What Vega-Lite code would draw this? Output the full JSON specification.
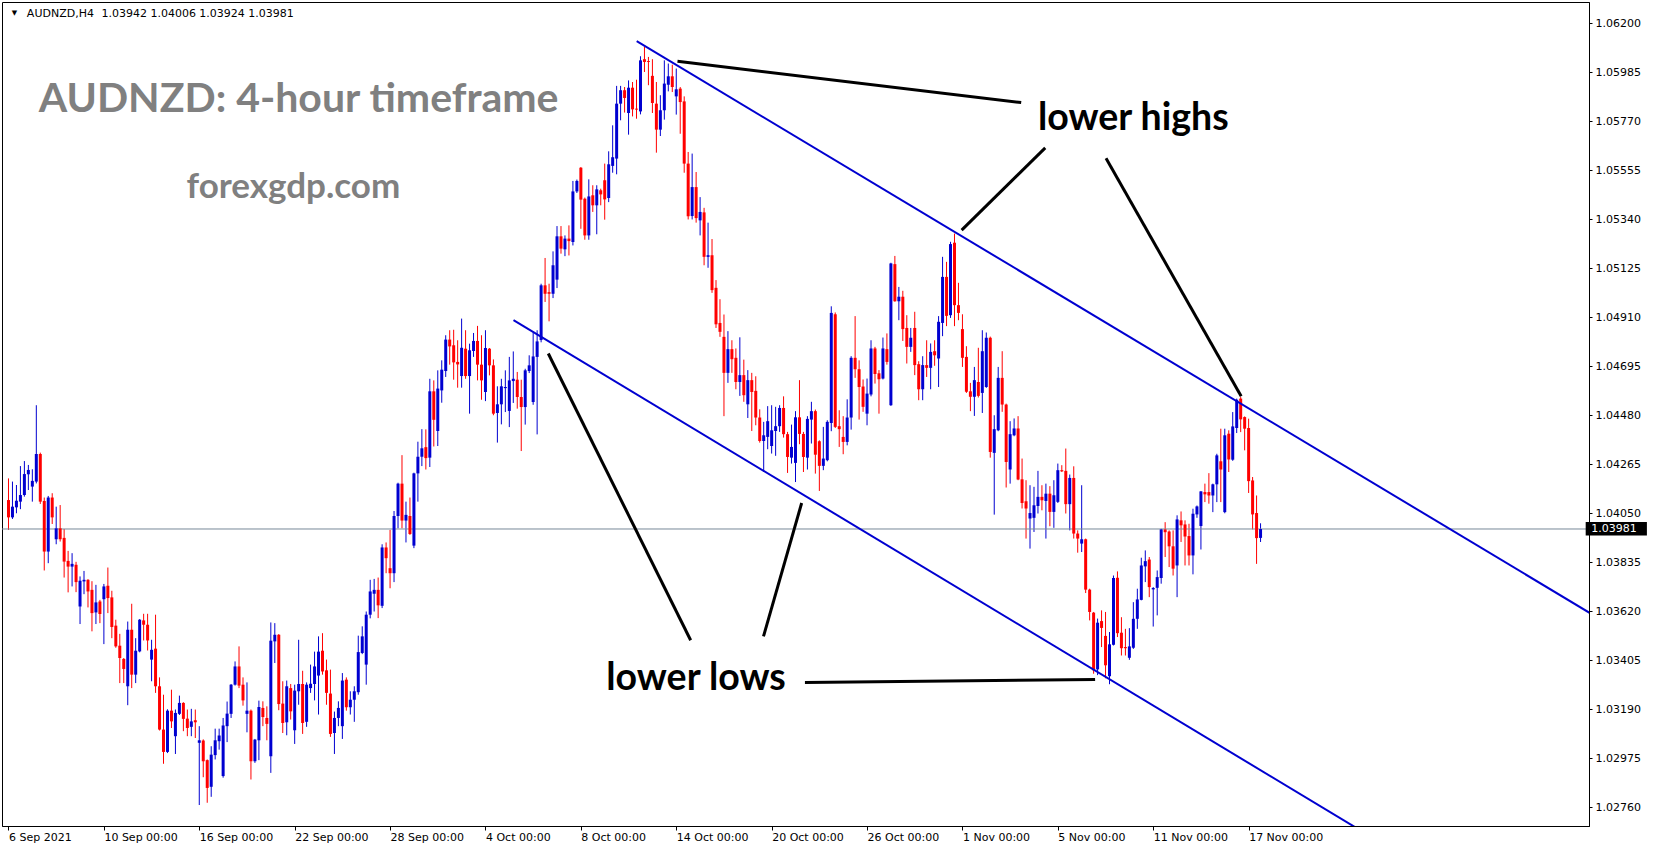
{
"$schema": "https://vega.github.io/schema/vega-lite/v6.json",
"width": 1587,
"height": 824,
"autosize": {"type": "none"},
"padding": {"left": 2, "top": 2, "right": 64, "bottom": 24},
"background": "white",
"config": {"view": {"stroke": "#000000", "strokeWidth": 1},
"axis": {"grid": false, "tickColor": "#000000", "domainColor": "#000000", "labelColor": "#000000", "labelFont": "DejaVu Sans", "labelFontSize": 11}},
"resolve": {"axis": {"x": "independent", "y": "independent"}},
"datasets": {
"candles": [
{"i":0,"o":1.04108,"h":1.04203,"l":1.03977,"c":1.04032},
{"i":1,"o":1.04032,"h":1.04189,"l":1.04025,"c":1.04079},
{"i":2,"o":1.04076,"h":1.04174,"l":1.04050,"c":1.04105},
{"i":3,"o":1.04101,"h":1.04257,"l":1.04068,"c":1.04130},
{"i":4,"o":1.04130,"h":1.04279,"l":1.04123,"c":1.04222},
{"i":5,"o":1.04221,"h":1.04262,"l":1.04152,"c":1.04240},
{"i":6,"o":1.04167,"h":1.04243,"l":1.04101,"c":1.04192},
{"i":7,"o":1.04189,"h":1.04524,"l":1.04181,"c":1.04310},
{"i":8,"o":1.04310,"h":1.04316,"l":1.04091,"c":1.04101},
{"i":9,"o":1.04104,"h":1.04119,"l":1.03799,"c":1.03882},
{"i":10,"o":1.03882,"h":1.04126,"l":1.03831,"c":1.04119},
{"i":11,"o":1.04119,"h":1.04138,"l":1.04003,"c":1.04032},
{"i":12,"o":1.03936,"h":1.04079,"l":1.03914,"c":1.03984},
{"i":13,"o":1.03984,"h":1.04086,"l":1.03926,"c":1.03936},
{"i":14,"o":1.03942,"h":1.03981,"l":1.03768,"c":1.03838},
{"i":15,"o":1.03841,"h":1.03885,"l":1.03703,"c":1.03816},
{"i":16,"o":1.03816,"h":1.03875,"l":1.03729,"c":1.03828},
{"i":17,"o":1.03824,"h":1.03837,"l":1.03704,"c":1.03748},
{"i":18,"o":1.03641,"h":1.03773,"l":1.03564,"c":1.03754},
{"i":19,"o":1.03751,"h":1.03797,"l":1.03695,"c":1.03758},
{"i":20,"o":1.03758,"h":1.03761,"l":1.03637,"c":1.03707},
{"i":21,"o":1.03714,"h":1.03752,"l":1.03532,"c":1.03612},
{"i":22,"o":1.03615,"h":1.03736,"l":1.03564,"c":1.03659},
{"i":23,"o":1.03663,"h":1.03670,"l":1.03568,"c":1.03608},
{"i":24,"o":1.03673,"h":1.03740,"l":1.03476,"c":1.03729},
{"i":25,"o":1.03732,"h":1.03812,"l":1.03612,"c":1.03678},
{"i":26,"o":1.03681,"h":1.03710,"l":1.03502,"c":1.03551},
{"i":27,"o":1.03557,"h":1.03583,"l":1.03460,"c":1.03466},
{"i":28,"o":1.03469,"h":1.03521,"l":1.03305,"c":1.03415},
{"i":29,"o":1.03411,"h":1.03415,"l":1.03305,"c":1.03367},
{"i":30,"o":1.03291,"h":1.03575,"l":1.03208,"c":1.03539},
{"i":31,"o":1.03539,"h":1.03653,"l":1.03283,"c":1.03342},
{"i":32,"o":1.03342,"h":1.03502,"l":1.03305,"c":1.03447},
{"i":33,"o":1.03444,"h":1.03586,"l":1.03440,"c":1.03583},
{"i":34,"o":1.03580,"h":1.03609,"l":1.03492,"c":1.03561},
{"i":35,"o":1.03561,"h":1.03609,"l":1.03448,"c":1.03492},
{"i":36,"o":1.03408,"h":1.03495,"l":1.03313,"c":1.03451},
{"i":37,"o":1.03456,"h":1.03605,"l":1.03262,"c":1.03291},
{"i":38,"o":1.03291,"h":1.03330,"l":1.03097,"c":1.03101},
{"i":39,"o":1.03101,"h":1.03254,"l":1.02951,"c":1.03003},
{"i":40,"o":1.03003,"h":1.03190,"l":1.02998,"c":1.03184},
{"i":41,"o":1.03184,"h":1.03276,"l":1.03108,"c":1.03137},
{"i":42,"o":1.03072,"h":1.03189,"l":1.02994,"c":1.03174},
{"i":43,"o":1.03170,"h":1.03250,"l":1.03165,"c":1.03218},
{"i":44,"o":1.03218,"h":1.03221,"l":1.03094,"c":1.03148},
{"i":45,"o":1.03149,"h":1.03189,"l":1.03072,"c":1.03108},
{"i":46,"o":1.03113,"h":1.03192,"l":1.03072,"c":1.03137},
{"i":47,"o":1.03142,"h":1.03189,"l":1.03064,"c":1.03133},
{"i":48,"o":1.03043,"h":1.03116,"l":1.02770,"c":1.03054},
{"i":49,"o":1.03053,"h":1.03058,"l":1.02892,"c":1.02962},
{"i":50,"o":1.02967,"h":1.02970,"l":1.02780,"c":1.02845},
{"i":51,"o":1.02850,"h":1.03028,"l":1.02806,"c":1.02991},
{"i":52,"o":1.02989,"h":1.03105,"l":1.02970,"c":1.03054},
{"i":53,"o":1.03050,"h":1.03105,"l":1.03013,"c":1.03075},
{"i":54,"o":1.02897,"h":1.03152,"l":1.02890,"c":1.03119},
{"i":55,"o":1.03116,"h":1.03224,"l":1.03046,"c":1.03171},
{"i":56,"o":1.03170,"h":1.03301,"l":1.03152,"c":1.03298},
{"i":57,"o":1.03298,"h":1.03400,"l":1.03294,"c":1.03378},
{"i":58,"o":1.03378,"h":1.03466,"l":1.03283,"c":1.03294},
{"i":59,"o":1.03298,"h":1.03330,"l":1.03206,"c":1.03229},
{"i":60,"o":1.03170,"h":1.03308,"l":1.03089,"c":1.03184},
{"i":61,"o":1.03184,"h":1.03189,"l":1.02882,"c":1.02962},
{"i":62,"o":1.02962,"h":1.03060,"l":1.02955,"c":1.03057},
{"i":63,"o":1.03054,"h":1.03228,"l":1.02967,"c":1.03200},
{"i":64,"o":1.03196,"h":1.03225,"l":1.03116,"c":1.03156},
{"i":65,"o":1.03152,"h":1.03203,"l":1.03054,"c":1.03126},
{"i":66,"o":1.02984,"h":1.03571,"l":1.02911,"c":1.03491},
{"i":67,"o":1.03488,"h":1.03568,"l":1.03393,"c":1.03517},
{"i":68,"o":1.03517,"h":1.03520,"l":1.03186,"c":1.03213},
{"i":69,"o":1.03215,"h":1.03313,"l":1.03086,"c":1.03130},
{"i":70,"o":1.03133,"h":1.03316,"l":1.03076,"c":1.03291},
{"i":71,"o":1.03283,"h":1.03301,"l":1.03145,"c":1.03181},
{"i":72,"o":1.03098,"h":1.03298,"l":1.03038,"c":1.03272},
{"i":73,"o":1.03269,"h":1.03495,"l":1.03210,"c":1.03301},
{"i":74,"o":1.03301,"h":1.03359,"l":1.03082,"c":1.03130},
{"i":75,"o":1.03135,"h":1.03308,"l":1.03113,"c":1.03298},
{"i":76,"o":1.03283,"h":1.03386,"l":1.03262,"c":1.03302},
{"i":77,"o":1.03301,"h":1.03443,"l":1.03229,"c":1.03378},
{"i":78,"o":1.03338,"h":1.03510,"l":1.03167,"c":1.03443},
{"i":79,"o":1.03447,"h":1.03524,"l":1.03342,"c":1.03356},
{"i":80,"o":1.03361,"h":1.03408,"l":1.03210,"c":1.03262},
{"i":81,"o":1.03259,"h":1.03364,"l":1.03069,"c":1.03082},
{"i":82,"o":1.03086,"h":1.03180,"l":1.02994,"c":1.03152},
{"i":83,"o":1.03152,"h":1.03225,"l":1.03116,"c":1.03196},
{"i":84,"o":1.03116,"h":1.03349,"l":1.03060,"c":1.03316},
{"i":85,"o":1.03320,"h":1.03330,"l":1.03184,"c":1.03199},
{"i":86,"o":1.03199,"h":1.03269,"l":1.03167,"c":1.03232},
{"i":87,"o":1.03232,"h":1.03291,"l":1.03135,"c":1.03269},
{"i":88,"o":1.03265,"h":1.03513,"l":1.03254,"c":1.03441},
{"i":89,"o":1.03437,"h":1.03554,"l":1.03432,"c":1.03510},
{"i":90,"o":1.03386,"h":1.03619,"l":1.03298,"c":1.03605},
{"i":91,"o":1.03605,"h":1.03758,"l":1.03589,"c":1.03707},
{"i":92,"o":1.03697,"h":1.03762,"l":1.03619,"c":1.03714},
{"i":93,"o":1.03714,"h":1.03768,"l":1.03590,"c":1.03646},
{"i":94,"o":1.03644,"h":1.03914,"l":1.03634,"c":1.03900},
{"i":95,"o":1.03900,"h":1.03922,"l":1.03787,"c":1.03853},
{"i":96,"o":1.03809,"h":1.03977,"l":1.03721,"c":1.03787},
{"i":97,"o":1.03787,"h":1.04060,"l":1.03748,"c":1.04038},
{"i":98,"o":1.04038,"h":1.04184,"l":1.03984,"c":1.04180},
{"i":99,"o":1.04180,"h":1.04305,"l":1.03984,"c":1.04018},
{"i":100,"o":1.04018,"h":1.04101,"l":1.03922,"c":1.04043},
{"i":101,"o":1.04038,"h":1.04119,"l":1.03955,"c":1.03959},
{"i":102,"o":1.03908,"h":1.04228,"l":1.03897,"c":1.04225},
{"i":103,"o":1.04225,"h":1.04364,"l":1.04101,"c":1.04298},
{"i":104,"o":1.04298,"h":1.04419,"l":1.04257,"c":1.04335},
{"i":105,"o":1.04340,"h":1.04418,"l":1.04242,"c":1.04292},
{"i":106,"o":1.04294,"h":1.04640,"l":1.04253,"c":1.04585},
{"i":107,"o":1.04585,"h":1.04633,"l":1.04343,"c":1.04460},
{"i":108,"o":1.04411,"h":1.04677,"l":1.04345,"c":1.04597},
{"i":109,"o":1.04589,"h":1.04721,"l":1.04535,"c":1.04680},
{"i":110,"o":1.04674,"h":1.04831,"l":1.04648,"c":1.04812},
{"i":111,"o":1.04812,"h":1.04853,"l":1.04702,"c":1.04782},
{"i":112,"o":1.04787,"h":1.04855,"l":1.04636,"c":1.04712},
{"i":113,"o":1.04714,"h":1.04809,"l":1.04601,"c":1.04703},
{"i":114,"o":1.04652,"h":1.04904,"l":1.04601,"c":1.04776},
{"i":115,"o":1.04772,"h":1.04853,"l":1.04640,"c":1.04652},
{"i":116,"o":1.04652,"h":1.04794,"l":1.04487,"c":1.04765},
{"i":117,"o":1.04762,"h":1.04841,"l":1.04736,"c":1.04806},
{"i":118,"o":1.04806,"h":1.04872,"l":1.04633,"c":1.04702},
{"i":119,"o":1.04702,"h":1.04831,"l":1.04548,"c":1.04633},
{"i":120,"o":1.04582,"h":1.04853,"l":1.04542,"c":1.04775},
{"i":121,"o":1.04772,"h":1.04775,"l":1.04655,"c":1.04699},
{"i":122,"o":1.04699,"h":1.04725,"l":1.04480,"c":1.04487},
{"i":123,"o":1.04490,"h":1.04607,"l":1.04360,"c":1.04528},
{"i":124,"o":1.04528,"h":1.04640,"l":1.04440,"c":1.04607},
{"i":125,"o":1.04599,"h":1.04677,"l":1.04494,"c":1.04604},
{"i":126,"o":1.04499,"h":1.04736,"l":1.04428,"c":1.04633},
{"i":127,"o":1.04630,"h":1.04760,"l":1.04534,"c":1.04640},
{"i":128,"o":1.04636,"h":1.04670,"l":1.04509,"c":1.04560},
{"i":129,"o":1.04560,"h":1.04636,"l":1.04323,"c":1.04516},
{"i":130,"o":1.04516,"h":1.04684,"l":1.04439,"c":1.04677},
{"i":131,"o":1.04674,"h":1.04743,"l":1.04665,"c":1.04699},
{"i":132,"o":1.04538,"h":1.04842,"l":1.04526,"c":1.04738},
{"i":133,"o":1.04736,"h":1.04853,"l":1.04396,"c":1.04804},
{"i":134,"o":1.04810,"h":1.05057,"l":1.04800,"c":1.05050},
{"i":135,"o":1.05050,"h":1.05170,"l":1.04977,"c":1.05013},
{"i":136,"o":1.05020,"h":1.05057,"l":1.04892,"c":1.05013},
{"i":137,"o":1.05013,"h":1.05199,"l":1.04994,"c":1.05138},
{"i":138,"o":1.05075,"h":1.05310,"l":1.05038,"c":1.05265},
{"i":139,"o":1.05265,"h":1.05310,"l":1.05189,"c":1.05211},
{"i":140,"o":1.05208,"h":1.05269,"l":1.05178,"c":1.05255},
{"i":141,"o":1.05255,"h":1.05313,"l":1.05181,"c":1.05244},
{"i":142,"o":1.05240,"h":1.05508,"l":1.05225,"c":1.05462},
{"i":143,"o":1.05462,"h":1.05514,"l":1.05455,"c":1.05508},
{"i":144,"o":1.05566,"h":1.05569,"l":1.05298,"c":1.05426},
{"i":145,"o":1.05430,"h":1.05435,"l":1.05250,"c":1.05269},
{"i":146,"o":1.05269,"h":1.05515,"l":1.05250,"c":1.05440},
{"i":147,"o":1.05445,"h":1.05489,"l":1.05372,"c":1.05401},
{"i":148,"o":1.05401,"h":1.05489,"l":1.05274,"c":1.05471},
{"i":149,"o":1.05467,"h":1.05474,"l":1.05401,"c":1.05449},
{"i":150,"o":1.05511,"h":1.05584,"l":1.05338,"c":1.05427},
{"i":151,"o":1.05433,"h":1.05638,"l":1.05415,"c":1.05581},
{"i":152,"o":1.05574,"h":1.05752,"l":1.05544,"c":1.05612},
{"i":153,"o":1.05606,"h":1.05925,"l":1.05537,"c":1.05847},
{"i":154,"o":1.05847,"h":1.05925,"l":1.05774,"c":1.05906},
{"i":155,"o":1.05906,"h":1.05920,"l":1.05808,"c":1.05872},
{"i":156,"o":1.05806,"h":1.05949,"l":1.05711,"c":1.05917},
{"i":157,"o":1.05917,"h":1.05942,"l":1.05791,"c":1.05822},
{"i":158,"o":1.05825,"h":1.05952,"l":1.05781,"c":1.05821},
{"i":159,"o":1.05813,"h":1.06055,"l":1.05800,"c":1.06037},
{"i":160,"o":1.06042,"h":1.06096,"l":1.05986,"c":1.06030},
{"i":161,"o":1.06034,"h":1.06052,"l":1.05928,"c":1.06030},
{"i":162,"o":1.05969,"h":1.06042,"l":1.05806,"c":1.05850},
{"i":163,"o":1.05847,"h":1.05942,"l":1.05632,"c":1.05733},
{"i":164,"o":1.05733,"h":1.05884,"l":1.05705,"c":1.05818},
{"i":165,"o":1.05818,"h":1.06037,"l":1.05777,"c":1.05935},
{"i":166,"o":1.05930,"h":1.06023,"l":1.05901,"c":1.05967},
{"i":167,"o":1.05967,"h":1.06018,"l":1.05898,"c":1.05920},
{"i":168,"o":1.05879,"h":1.06001,"l":1.05799,"c":1.05910},
{"i":169,"o":1.05913,"h":1.05920,"l":1.05715,"c":1.05854},
{"i":170,"o":1.05857,"h":1.05879,"l":1.05544,"c":1.05584},
{"i":171,"o":1.05584,"h":1.05635,"l":1.05339,"c":1.05353},
{"i":172,"o":1.05354,"h":1.05628,"l":1.05339,"c":1.05481},
{"i":173,"o":1.05481,"h":1.05547,"l":1.05325,"c":1.05345},
{"i":174,"o":1.05335,"h":1.05437,"l":1.05269,"c":1.05372},
{"i":175,"o":1.05370,"h":1.05390,"l":1.05138,"c":1.05175},
{"i":176,"o":1.05175,"h":1.05325,"l":1.05127,"c":1.05182},
{"i":177,"o":1.05182,"h":1.05253,"l":1.05017,"c":1.05029},
{"i":178,"o":1.05039,"h":1.05073,"l":1.04863,"c":1.04879},
{"i":179,"o":1.04885,"h":1.04989,"l":1.04824,"c":1.04846},
{"i":180,"o":1.04824,"h":1.04922,"l":1.04476,"c":1.04666},
{"i":181,"o":1.04666,"h":1.04849,"l":1.04622,"c":1.04770},
{"i":182,"o":1.04770,"h":1.04809,"l":1.04666,"c":1.04726},
{"i":183,"o":1.04732,"h":1.04773,"l":1.04594,"c":1.04626},
{"i":184,"o":1.04626,"h":1.04822,"l":1.04565,"c":1.04656},
{"i":185,"o":1.04656,"h":1.04724,"l":1.04539,"c":1.04568},
{"i":186,"o":1.04528,"h":1.04678,"l":1.04468,"c":1.04634},
{"i":187,"o":1.04634,"h":1.04666,"l":1.04411,"c":1.04582},
{"i":188,"o":1.04587,"h":1.04651,"l":1.04436,"c":1.04470},
{"i":189,"o":1.04470,"h":1.04506,"l":1.04360,"c":1.04367},
{"i":190,"o":1.04367,"h":1.04451,"l":1.04231,"c":1.04392},
{"i":191,"o":1.04385,"h":1.04520,"l":1.04331,"c":1.04454},
{"i":192,"o":1.04345,"h":1.04524,"l":1.04312,"c":1.04414},
{"i":193,"o":1.04411,"h":1.04517,"l":1.04302,"c":1.04432},
{"i":194,"o":1.04432,"h":1.04524,"l":1.04407,"c":1.04512},
{"i":195,"o":1.04512,"h":1.04563,"l":1.04382,"c":1.04397},
{"i":196,"o":1.04397,"h":1.04407,"l":1.04227,"c":1.04297},
{"i":197,"o":1.04294,"h":1.04439,"l":1.04268,"c":1.04341},
{"i":198,"o":1.04271,"h":1.04498,"l":1.04187,"c":1.04471},
{"i":199,"o":1.04471,"h":1.04634,"l":1.04353,"c":1.04398},
{"i":200,"o":1.04398,"h":1.04407,"l":1.04231,"c":1.04297},
{"i":201,"o":1.04294,"h":1.04476,"l":1.04242,"c":1.04464},
{"i":202,"o":1.04461,"h":1.04539,"l":1.04356,"c":1.04498},
{"i":203,"o":1.04498,"h":1.04505,"l":1.04224,"c":1.04307},
{"i":204,"o":1.04366,"h":1.04370,"l":1.04148,"c":1.04258},
{"i":205,"o":1.04258,"h":1.04429,"l":1.04239,"c":1.04290},
{"i":206,"o":1.04283,"h":1.04458,"l":1.04278,"c":1.04451},
{"i":207,"o":1.04446,"h":1.04958,"l":1.04410,"c":1.04929},
{"i":208,"o":1.04923,"h":1.04931,"l":1.04424,"c":1.04429},
{"i":209,"o":1.04432,"h":1.04502,"l":1.04341,"c":1.04419},
{"i":210,"o":1.04385,"h":1.04476,"l":1.04309,"c":1.04363},
{"i":211,"o":1.04363,"h":1.04550,"l":1.04348,"c":1.04470},
{"i":212,"o":1.04470,"h":1.04739,"l":1.04417,"c":1.04732},
{"i":213,"o":1.04732,"h":1.04915,"l":1.04644,"c":1.04682},
{"i":214,"o":1.04682,"h":1.04721,"l":1.04461,"c":1.04604},
{"i":215,"o":1.04606,"h":1.04637,"l":1.04495,"c":1.04517},
{"i":216,"o":1.04487,"h":1.04641,"l":1.04436,"c":1.04575},
{"i":217,"o":1.04571,"h":1.04809,"l":1.04563,"c":1.04773},
{"i":218,"o":1.04773,"h":1.04780,"l":1.04619,"c":1.04661},
{"i":219,"o":1.04664,"h":1.04678,"l":1.04487,"c":1.04638},
{"i":220,"o":1.04641,"h":1.04821,"l":1.04637,"c":1.04773},
{"i":221,"o":1.04770,"h":1.04839,"l":1.04702,"c":1.04714},
{"i":222,"o":1.04524,"h":1.05149,"l":1.04521,"c":1.05146},
{"i":223,"o":1.05143,"h":1.05179,"l":1.04978,"c":1.04980},
{"i":224,"o":1.04980,"h":1.05043,"l":1.04897,"c":1.05000},
{"i":225,"o":1.05000,"h":1.05026,"l":1.04806,"c":1.04858},
{"i":226,"o":1.04863,"h":1.04919,"l":1.04707,"c":1.04780},
{"i":227,"o":1.04780,"h":1.04863,"l":1.04758,"c":1.04820},
{"i":228,"o":1.04863,"h":1.04934,"l":1.04656,"c":1.04700},
{"i":229,"o":1.04704,"h":1.04717,"l":1.04546,"c":1.04594},
{"i":230,"o":1.04594,"h":1.04739,"l":1.04546,"c":1.04700},
{"i":231,"o":1.04700,"h":1.04809,"l":1.04648,"c":1.04688},
{"i":232,"o":1.04688,"h":1.04795,"l":1.04594,"c":1.04758},
{"i":233,"o":1.04761,"h":1.04809,"l":1.04697,"c":1.04743},
{"i":234,"o":1.04729,"h":1.04915,"l":1.04604,"c":1.04890},
{"i":235,"o":1.04885,"h":1.05175,"l":1.04827,"c":1.05087},
{"i":236,"o":1.05087,"h":1.05153,"l":1.04871,"c":1.04916},
{"i":237,"o":1.04919,"h":1.05241,"l":1.04907,"c":1.05231},
{"i":238,"o":1.05237,"h":1.05277,"l":1.04871,"c":1.04963},
{"i":239,"o":1.04963,"h":1.05061,"l":1.04897,"c":1.04929},
{"i":240,"o":1.04858,"h":1.04923,"l":1.04692,"c":1.04732},
{"i":241,"o":1.04736,"h":1.04783,"l":1.04578,"c":1.04583},
{"i":242,"o":1.04585,"h":1.04622,"l":1.04498,"c":1.04561},
{"i":243,"o":1.04561,"h":1.04692,"l":1.04477,"c":1.04634},
{"i":244,"o":1.04626,"h":1.04776,"l":1.04558,"c":1.04565},
{"i":245,"o":1.04578,"h":1.04853,"l":1.04490,"c":1.04761},
{"i":246,"o":1.04604,"h":1.04843,"l":1.04600,"c":1.04820},
{"i":247,"o":1.04820,"h":1.04825,"l":1.04294,"c":1.04319},
{"i":248,"o":1.04315,"h":1.04480,"l":1.04044,"c":1.04419},
{"i":249,"o":1.04414,"h":1.04692,"l":1.04410,"c":1.04644},
{"i":250,"o":1.04644,"h":1.04761,"l":1.04495,"c":1.04527},
{"i":251,"o":1.04527,"h":1.04531,"l":1.04163,"c":1.04275},
{"i":252,"o":1.04242,"h":1.04454,"l":1.04180,"c":1.04397},
{"i":253,"o":1.04392,"h":1.04466,"l":1.04388,"c":1.04422},
{"i":254,"o":1.04422,"h":1.04476,"l":1.04195,"c":1.04198},
{"i":255,"o":1.04199,"h":1.04290,"l":1.04071,"c":1.04095},
{"i":256,"o":1.04103,"h":1.04195,"l":1.03939,"c":1.04071},
{"i":257,"o":1.04027,"h":1.04173,"l":1.03895,"c":1.04051},
{"i":258,"o":1.04030,"h":1.04166,"l":1.03968,"c":1.04085},
{"i":259,"o":1.04082,"h":1.04236,"l":1.04049,"c":1.04122},
{"i":260,"o":1.04122,"h":1.04173,"l":1.04063,"c":1.04107},
{"i":261,"o":1.04104,"h":1.04180,"l":1.03939,"c":1.04136},
{"i":262,"o":1.04136,"h":1.04169,"l":1.03993,"c":1.04056},
{"i":263,"o":1.04056,"h":1.04195,"l":1.03986,"c":1.04129},
{"i":264,"o":1.04100,"h":1.04268,"l":1.04095,"c":1.04239},
{"i":265,"o":1.04239,"h":1.04261,"l":1.04231,"c":1.04234},
{"i":266,"o":1.04236,"h":1.04334,"l":1.04049,"c":1.04090},
{"i":267,"o":1.04090,"h":1.04220,"l":1.03975,"c":1.04205},
{"i":268,"o":1.04205,"h":1.04256,"l":1.03939,"c":1.03961},
{"i":269,"o":1.03961,"h":1.03975,"l":1.03877,"c":1.03939},
{"i":270,"o":1.03917,"h":1.04173,"l":1.03880,"c":1.03936},
{"i":271,"o":1.03936,"h":1.03939,"l":1.03700,"c":1.03715},
{"i":272,"o":1.03715,"h":1.03719,"l":1.03580,"c":1.03617},
{"i":273,"o":1.03614,"h":1.03617,"l":1.03346,"c":1.03361},
{"i":274,"o":1.03365,"h":1.03588,"l":1.03340,"c":1.03570},
{"i":275,"o":1.03577,"h":1.03624,"l":1.03463,"c":1.03547},
{"i":276,"o":1.03512,"h":1.03617,"l":1.03326,"c":1.03383},
{"i":277,"o":1.03335,"h":1.03529,"l":1.03300,"c":1.03475},
{"i":278,"o":1.03473,"h":1.03777,"l":1.03470,"c":1.03766},
{"i":279,"o":1.03767,"h":1.03795,"l":1.03507,"c":1.03524},
{"i":280,"o":1.03526,"h":1.03594,"l":1.03426,"c":1.03458},
{"i":281,"o":1.03463,"h":1.03543,"l":1.03426,"c":1.03458},
{"i":282,"o":1.03416,"h":1.03546,"l":1.03407,"c":1.03466},
{"i":283,"o":1.03460,"h":1.03660,"l":1.03455,"c":1.03587},
{"i":284,"o":1.03587,"h":1.03719,"l":1.03543,"c":1.03672},
{"i":285,"o":1.03670,"h":1.03855,"l":1.03668,"c":1.03821},
{"i":286,"o":1.03817,"h":1.03887,"l":1.03748,"c":1.03840},
{"i":287,"o":1.03847,"h":1.03858,"l":1.03682,"c":1.03726},
{"i":288,"o":1.03716,"h":1.03726,"l":1.03553,"c":1.03722},
{"i":289,"o":1.03723,"h":1.03799,"l":1.03602,"c":1.03770},
{"i":290,"o":1.03766,"h":1.03982,"l":1.03741,"c":1.03979},
{"i":291,"o":1.03979,"h":1.04011,"l":1.03858,"c":1.03967},
{"i":292,"o":1.03970,"h":1.03975,"l":1.03814,"c":1.03905},
{"i":293,"o":1.03905,"h":1.03975,"l":1.03777,"c":1.03807},
{"i":294,"o":1.03821,"h":1.04041,"l":1.03682,"c":1.04023},
{"i":295,"o":1.04019,"h":1.04058,"l":1.03924,"c":1.03997},
{"i":296,"o":1.04001,"h":1.04019,"l":1.03821,"c":1.03948},
{"i":297,"o":1.03950,"h":1.04004,"l":1.03821,"c":1.03865},
{"i":298,"o":1.03865,"h":1.04070,"l":1.03782,"c":1.04048},
{"i":299,"o":1.04045,"h":1.04084,"l":1.04030,"c":1.04080},
{"i":300,"o":1.03994,"h":1.04147,"l":1.03891,"c":1.04146},
{"i":301,"o":1.04143,"h":1.04180,"l":1.04099,"c":1.04133},
{"i":302,"o":1.04143,"h":1.04226,"l":1.04092,"c":1.04128},
{"i":303,"o":1.04128,"h":1.04180,"l":1.04055,"c":1.04177},
{"i":304,"o":1.04177,"h":1.04311,"l":1.04099,"c":1.04304},
{"i":305,"o":1.04278,"h":1.04421,"l":1.04099,"c":1.04242},
{"i":306,"o":1.04055,"h":1.04421,"l":1.04050,"c":1.04392},
{"i":307,"o":1.04399,"h":1.04414,"l":1.04231,"c":1.04286},
{"i":308,"o":1.04285,"h":1.04494,"l":1.04280,"c":1.04431},
{"i":309,"o":1.04424,"h":1.04553,"l":1.04402,"c":1.04548},
{"i":310,"o":1.04553,"h":1.04560,"l":1.04406,"c":1.04462},
{"i":311,"o":1.04472,"h":1.04475,"l":1.04326,"c":1.04421},
{"i":312,"o":1.04424,"h":1.04465,"l":1.04139,"c":1.04191},
{"i":313,"o":1.04194,"h":1.04209,"l":1.03979,"c":1.04045},
{"i":314,"o":1.04051,"h":1.04128,"l":1.03828,"c":1.03941},
{"i":315,"o":1.03942,"h":1.04006,"l":1.03924,"c":1.03981}
],
"channel": [
{"i1":158.05,"p1":1.06121,"i2":400,"p2":1.03590},
{"i1":127.05,"p1":1.04897,"i2":344.3,"p2":1.02615}
],
"pointers": [
{"i1":168.3,"p1":1.06033,"i2":254.78,"p2":1.05852},
{"i1":260.83,"p1":1.05653,"i2":239.8,"p2":1.05292},
{"i1":276.125,"p1":1.05608,"i2":310.125,"p2":1.04563},
{"i1":135.8,"p1":1.04751,"i2":171.625,"p2":1.03493},
{"i1":199.55,"p1":1.04095,"i2":189.95,"p2":1.03510},
{"i1":200.375,"p1":1.03308,"i2":273.375,"p2":1.03321}
],
"one": [{}]
},
"layer": [
{
"data": {"name": "candles"},
"mark": {"type": "rule", "strokeWidth": 1},
"encoding": {
"x": {"field": "i", "type": "quantitative", "title": null,
"scale": {"domain": [-0.375, 396.375], "nice": false, "zero": false},
"axis": {"orient": "bottom", "title": null, "values": [0,24,48,72,96,120,144,168,192,216,240,264,288,312],
"labelExpr": "['6 Sep 2021','10 Sep 00:00','16 Sep 00:00','22 Sep 00:00','28 Sep 00:00','4 Oct 00:00','8 Oct 00:00','14 Oct 00:00','20 Oct 00:00','26 Oct 00:00','1 Nov 00:00','5 Nov 00:00','11 Nov 00:00','17 Nov 00:00'][round(datum.value/24)]",
"labelAlign": "left", "labelBaseline": "top", "labelPadding": 1, "tickSize": 4}},
"y": {"field": "l", "type": "quantitative", "title": null,
"scale": {"domain": [1.02678, 1.06293], "nice": false, "zero": false},
"axis": {"orient": "right", "title": null, "values": [1.0276,1.02975,1.0319,1.03405,1.0362,1.03835,1.0405,1.04265,1.0448,1.04695,1.0491,1.05125,1.0534,1.05555,1.0577,1.05985,1.062],
"format": ".5f", "tickSize": 3, "labelPadding": 3, "labelAlign": "left", "labelBaseline": "middle"}},
"y2": {"field": "h"},
"color": {"condition": {"test": "datum.c >= datum.o", "value": "#0000D0"}, "value": "#FF0000"}
}
},
{
"data": {"name": "one"},
"mark": {"type": "rule", "color": "#778899", "strokeWidth": 1},
"encoding": {
"y": {"datum": 1.03981, "type": "quantitative", "axis": null}
}
},
{
"data": {"name": "candles"},
"mark": {"type": "bar", "width": 3},
"encoding": {
"x": {"field": "i", "type": "quantitative", "axis": null},
"y": {"field": "o", "type": "quantitative", "axis": null},
"y2": {"field": "c"},
"color": {"condition": {"test": "datum.c >= datum.o", "value": "#0000D0"}, "value": "#FF0000"}
}
},
{
"data": {"name": "channel"},
"mark": {"type": "rule", "color": "#0000D0", "strokeWidth": 2, "clip": true},
"encoding": {
"x": {"field": "i1", "type": "quantitative", "axis": null},
"x2": {"field": "i2"},
"y": {"field": "p1", "type": "quantitative", "axis": null},
"y2": {"field": "p2"}
}
},
{
"data": {"name": "pointers"},
"mark": {"type": "rule", "color": "#000000", "strokeWidth": 3, "clip": true},
"encoding": {
"x": {"field": "i1", "type": "quantitative", "axis": null},
"x2": {"field": "i2"},
"y": {"field": "p1", "type": "quantitative", "axis": null},
"y2": {"field": "p2"}
}
},
{
"data": {"name": "one"},
"mark": {"type": "text", "text": "AUDNZD: 4-hour timeframe", "font": "Lato", "fontWeight": "bold", "fontSize": 41, "color": "#808080", "align": "left", "baseline": "alphabetic"},
"encoding": {"x": {"datum": 7.6, "type": "quantitative", "axis": null}, "y": {"datum": 1.0581, "type": "quantitative", "axis": null}}
},
{
"data": {"name": "one"},
"mark": {"type": "text", "text": "forexgdp.com", "font": "Lato", "fontWeight": "bold", "fontSize": 35, "color": "#808080", "align": "left", "baseline": "alphabetic"},
"encoding": {"x": {"datum": 44.8, "type": "quantitative", "axis": null}, "y": {"datum": 1.05432, "type": "quantitative", "axis": null}}
},
{
"data": {"name": "one"},
"mark": {"type": "text", "text": "lower highs", "font": "Lato", "fontWeight": "bold", "fontSize": 37.5, "color": "#000000", "align": "left", "baseline": "alphabetic"},
"encoding": {"x": {"datum": 259.0, "type": "quantitative", "axis": null}, "y": {"datum": 1.05731, "type": "quantitative", "axis": null}}
},
{
"data": {"name": "one"},
"mark": {"type": "text", "text": "lower lows", "font": "Lato", "fontWeight": "bold", "fontSize": 37.5, "color": "#000000", "align": "left", "baseline": "alphabetic"},
"encoding": {"x": {"datum": 150.4, "type": "quantitative", "axis": null}, "y": {"datum": 1.03273, "type": "quantitative", "axis": null}}
},
{
"data": {"name": "one"},
"mark": {"type": "text", "text": "▼", "font": "DejaVu Sans", "fontSize": 7, "color": "#000000", "align": "center", "baseline": "middle"},
"encoding": {"x": {"datum": 1.5, "type": "quantitative", "axis": null}, "y": {"datum": 1.06244, "type": "quantitative", "axis": null}}
},
{
"data": {"name": "one"},
"mark": {"type": "text", "text": "AUDNZD,H4", "font": "DejaVu Sans", "fontSize": 11, "color": "#000000", "align": "left", "baseline": "alphabetic"},
"encoding": {"x": {"datum": 4.625, "type": "quantitative", "axis": null}, "y": {"datum": 1.06225, "type": "quantitative", "axis": null}}
},
{
"data": {"name": "one"},
"mark": {"type": "text", "text": "1.03942 1.04006 1.03924 1.03981", "font": "DejaVu Sans", "fontSize": 11, "color": "#000000", "align": "left", "baseline": "alphabetic"},
"encoding": {"x": {"datum": 23.375, "type": "quantitative", "axis": null}, "y": {"datum": 1.06225, "type": "quantitative", "axis": null}}
},
{
"data": {"name": "one"},
"mark": {"type": "rect", "color": "#000000", "clip": false},
"encoding": {
"x": {"datum": 396.8, "type": "quantitative", "axis": null}, "x2": {"datum": 412.2},
"y": {"datum": 1.04012, "type": "quantitative", "axis": null}, "y2": {"datum": 1.03953}
}
},
{
"data": {"name": "one"},
"mark": {"type": "text", "text": "1.03981", "font": "DejaVu Sans", "fontSize": 11, "color": "#FFFFFF", "align": "left", "baseline": "middle"},
"encoding": {"x": {"datum": 398.2, "type": "quantitative", "axis": null}, "y": {"datum": 1.03981, "type": "quantitative", "axis": null}}
}
]
}
